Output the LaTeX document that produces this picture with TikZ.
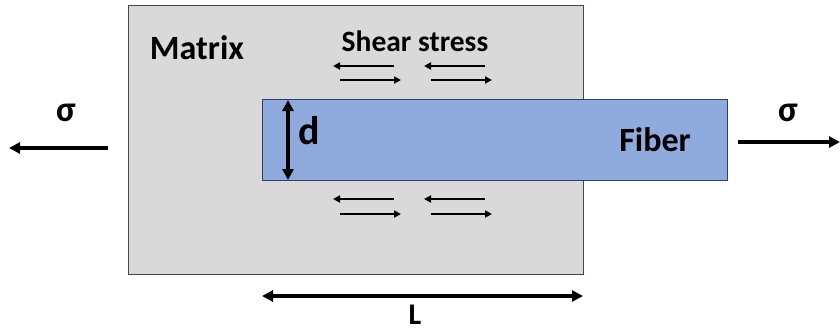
\documentclass[tikz,border=0pt]{standalone}
\usepackage{fontspec}
\setmainfont{Carlito}
\usetikzlibrary{arrows.meta}
\definecolor{matfill}{HTML}{D9D9D9}
\definecolor{matdraw}{HTML}{3B4A5C}
\definecolor{fibfill}{HTML}{8FAADC}
\definecolor{fibdraw}{HTML}{2F3F6A}
\tikzset{
  arr/.style={line width=3.2pt,-{Triangle[length=11pt,width=11pt]}},
  darr/.style={line width=3.2pt,{Triangle[length=11pt,width=11pt]}-{Triangle[length=11pt,width=11pt]}},
  sarr/.style={line width=2pt,-{Triangle[length=7pt,width=7pt]}},
  lbl/.style={font=\bfseries, inner sep=0pt},
}
\begin{document}
\begin{tikzpicture}[x=1pt,y=-1pt]
\useasboundingbox (0,0) rectangle (840,333);
\node[draw=matdraw, line width=1pt, fill=matfill, minimum width=455pt, minimum height=269pt, inner sep=0pt, anchor=north west] (matrix) at (128,5) {};
\node[draw=fibdraw, line width=1pt, fill=fibfill, minimum width=465pt, minimum height=81pt, inner sep=0pt, anchor=north west] (fiber) at (262,99) {};
\node[lbl, font=\fontsize{34}{38}\selectfont\bfseries] (mtext) at (197,48) {Matrix};
\node[lbl, font=\fontsize{29.5}{34}\selectfont\bfseries] (stext) at (415,41) {Shear stress};
\node[lbl, font=\fontsize{34}{38}\selectfont\bfseries] (ftext) at (655,140) {Fiber};
\node[lbl, font=\fontsize{40}{44}\selectfont\bfseries] (dtext) at (309,131) {d};
\node[lbl, font=\fontsize{36}{40}\selectfont\bfseries] (sigL) at (66,113) {σ};
\node[lbl, font=\fontsize{36}{40}\selectfont\bfseries] (sigR) at (788,113) {σ};
\node[lbl, font=\fontsize{30}{34}\selectfont\bfseries] (ltext) at (415,315) {L};
% d arrow
\coordinate (dtop) at (288,100);
\coordinate (dbot) at (288,180);
\draw[darr] (dtop) -- (dbot);
% L arrow
\coordinate (lleft) at (262,296);
\coordinate (lright) at (583,296);
\draw[darr] (lleft) -- (lright);
% sigma arrows
\coordinate (sl1) at (108,148);
\coordinate (sl2) at (9,148);
\draw[arr] (sl1) -- (sl2);
\coordinate (sr1) at (738,142);
\coordinate (sr2) at (840,142);
\draw[arr] (sr1) -- (sr2);
% shear arrows
\foreach \y/\n in {66/a,199/b}{
  \coordinate (l1s\n) at (394,\y); \coordinate (l1e\n) at (333,\y);
  \coordinate (l2s\n) at (485,\y); \coordinate (l2e\n) at (424,\y);
  \draw[sarr] (l1s\n) -- (l1e\n);
  \draw[sarr] (l2s\n) -- (l2e\n);
}
\foreach \y/\n in {80/a,214/b}{
  \coordinate (r1s\n) at (340,\y); \coordinate (r1e\n) at (401,\y);
  \coordinate (r2s\n) at (431,\y); \coordinate (r2e\n) at (492,\y);
  \draw[sarr] (r1s\n) -- (r1e\n);
  \draw[sarr] (r2s\n) -- (r2e\n);
}
\end{tikzpicture}
\end{document}
